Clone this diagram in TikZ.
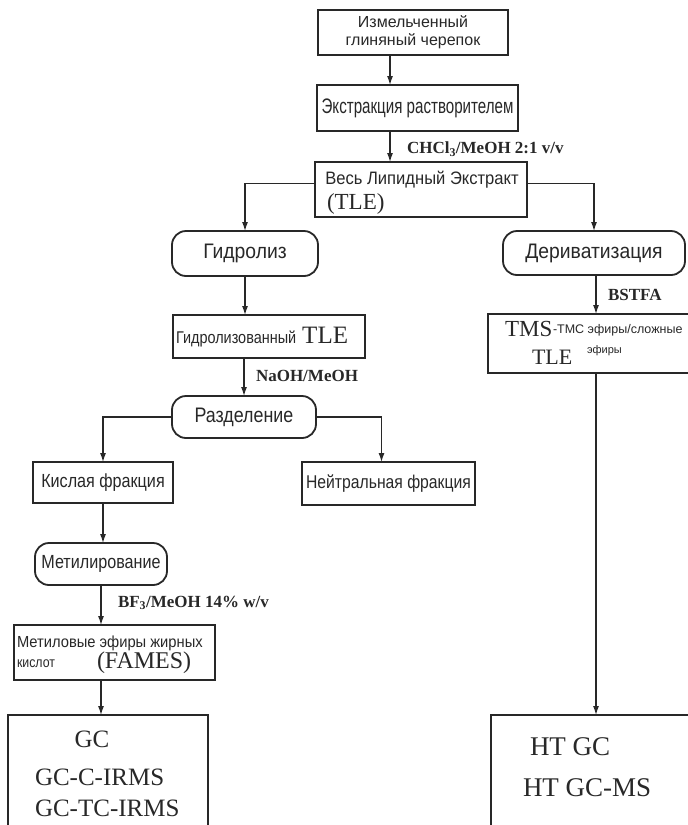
\documentclass[tikz,border=0pt]{standalone}
\usepackage{fontspec}
\setmainfont{Liberation Serif}
\newfontfamily\sansr{Liberation Sans}
\newfontfamily\sansm[FakeStretch=0.92]{Liberation Sans}
\newfontfamily\sansn[FakeStretch=0.85]{Liberation Sans}
\newfontfamily\sansc[FakeStretch=0.72]{Liberation Sans}
\usetikzlibrary{arrows.meta,calc}
\newcommand\fsz[1]{\fontsize{#1}{#1}\selectfont}
\definecolor{ink}{RGB}{40,40,40}
\begin{document}
\begin{tikzpicture}[x=1pt,y=-1pt,
  box/.style={draw=ink,line width=1.8pt,inner sep=0pt,outer sep=0pt},
  rbox/.style={box,rounded corners=14pt},
  arr/.style={draw=ink,line width=1.2pt,-{Latex[length=9pt,width=6pt]}},
  txt/.style={inner sep=0pt,outer sep=0pt,text=ink},
  lab/.style={txt,anchor=west,font=\bfseries\fsz{17}}]
\useasboundingbox (0,0) rectangle (688,825);
\fill[white] (0,0) rectangle (688,825);
\clip (0,0) rectangle (688,825);

% top chain
\node[box,minimum width=190pt,minimum height=45pt,align=center,text=ink,
  font=\sansr\fontsize{16}{18}\selectfont] (n1) at (413,32.5) {Измельченный\\глиняный черепок};
\node[box,minimum width=201pt,minimum height=46pt,text=ink,font=\sansc\fsz{21}] (n2) at (417.5,108) {Экстракция растворителем};
\node[box,minimum width=212pt,minimum height=55pt] (tle) at (421,189.5) {};
\node[txt,font=\sansm\fsz{18}] (tlet) at (422,180) {Весь Липидный Экстракт};
\node[txt,anchor=west,font=\fsz{23}] (tlea) at (327,204) {(TLE)};
\coordinate (topx) at ([xshift=-23pt]n1.south);

% left branch
\node[rbox,minimum width=146pt,minimum height=45pt,text=ink,font=\sansm\fsz{21}] (hyd) at (245,253.5) {Гидролиз};
\node[box,minimum width=192pt,minimum height=43pt] (ht) at (269,336.5) {};
\node[txt,anchor=west] (htt) at (176,337) {{\sansn\fsz{17}Гидролизованный}\hspace{6pt}{\fsz{25}TLE}};
\node[rbox,minimum width=144pt,minimum height=42pt,text=ink,font=\sansn\fsz{21}] (razd) at (244,417) {Разделение};
\node[box,minimum width=140pt,minimum height=41pt,text=ink,font=\sansn\fsz{19}] (acid) at (103,482.5) {Кислая фракция};
\node[box,minimum width=173pt,minimum height=43pt,text=ink,font=\sansn\fsz{18.5}] (neut) at (388.5,483.5) {Нейтральная фракция};
\node[rbox,minimum width=132pt,minimum height=42pt,text=ink,font=\sansn\fsz{19}] (met) at (101,564) {Метилирование};
\node[box,minimum width=201pt,minimum height=55pt] (fames) at (114.5,652.5) {};
\node[txt,anchor=west,font=\sansm\fsz{16}] (famA) at (17,643) {Метиловые эфиры жирных};
\node[txt,anchor=west,font=\sansn\fsz{14.5}] (famB) at (17,664) {кислот};
\node[txt,anchor=west,font=\fsz{24}] (famC) at (97,663) {(FAMES)};
\node[box,minimum width=200pt,minimum height=135pt] (gc) at (108,782.5) {};
\node[txt,font=\fsz{25}] (gc1) at (92,739) {GC};
\node[txt,anchor=west,font=\fsz{25}] (gc2) at (35,777) {GC-C-IRMS};
\node[txt,anchor=west,font=\fsz{25}] (gc3) at (35,808) {GC-TC-IRMS};

% right branch
\node[rbox,minimum width=182pt,minimum height=44pt,text=ink,font=\sansm\fsz{21}] (der) at (594,253) {Дериватизация};
\node[box,minimum width=216pt,minimum height=59pt] (tms) at (596,343.5) {};
\node[txt,anchor=west,font=\fsz{23}] (tmsA) at (505,329) {TMS};
\node[txt,anchor=west,font=\sansr\fsz{12.5}] (tmsB) at (553,330) {-ТМС эфиры/сложные};
\node[txt,anchor=west,font=\fsz{22}] (tmsC) at (532,357) {TLE};
\node[txt,anchor=west,font=\sansr\fsz{11}] (tmsD) at (587,351) {эфиры};
\node[box,minimum width=210pt,minimum height=135pt] (htgc) at (596,782.5) {};
\node[txt,anchor=west,font=\fsz{27}] (ht1) at (530,747) {HT GC};
\node[txt,anchor=west,font=\fsz{27}] (ht2) at (523,788) {HT GC-MS};

% labels
\node[lab] (l1) at (407,149) {CHCl\textsubscript{3}/MeOH 2:1 v/v};
\node[lab] (l2) at (256,376) {NaOH/MeOH};
\node[lab] (l3) at (608,295) {BSTFA};
\node[lab] (l4) at (118,603) {BF\textsubscript{3}/MeOH 14\% w/v};

% connectors
\draw[arr] (topx) -- (topx |- n2.north);
\draw[arr] (n2.south -| topx) -- (topx |- tle.north);
\draw[arr] ($(tle.north west)!0.385!(tle.south west)$) -| (hyd.north);
\draw[arr] ($(tle.north east)!0.385!(tle.south east)$) -| (der.north);
\draw[arr] (hyd.south) -- (hyd.south |- ht.north);
\draw[arr] (ht.south -| razd.north) -- (razd.north);
\draw[arr] (razd.west) -| (acid.north);
\draw[arr] (razd.east) -| ([xshift=-7pt]neut.north);
\draw[arr] (acid.south) -- (acid.south |- met.north);
\draw[arr] (met.south) -- (met.south |- fames.north);
\draw[arr] (fames.south -| met.south) -- (met.south |- gc.north);
\draw[arr] (der.south -| tms.north) -- (tms.north);
\draw[arr] (tms.south) -- (htgc.north);
\end{tikzpicture}
\end{document}
